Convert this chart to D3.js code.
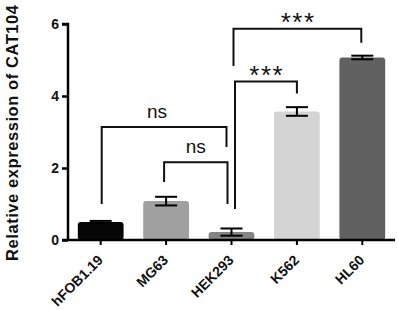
<!DOCTYPE html>
<html><head><meta charset="utf-8">
<script src="https://cdn.jsdelivr.net/npm/d3@7"></script>
<style>body{margin:0;background:#fff}svg{display:block}text{font-family:"Liberation Sans",Arial,sans-serif}</style>
</head><body><svg id="c" width="398" height="310"></svg>
<script>
const categories = ["hFOB1.19","MG63","HEK293","K562","HL60"];
const means = [0.5, 1.08, 0.22, 3.57, 5.07];
const errors = [0.03, 0.12, 0.1, 0.12, 0.05];
const barColors = ["#060606","#a0a0a0","#848484","#d4d4d4","#616161"];
const yTicks = [0,2,4,6];
const yTitle = "Relative expression of CAT104";
// significance brackets
const bracketFrom = ["hFOB1.19","MG63","HEK293","HEK293"];
const bracketTo = ["HEK293","HEK293","K562","HL60"];
const bracketLevel = [3.14, 2.16, 4.4, 5.87];
const legLeftEnd = [1.0, 1.61, 0.86, 4.83];
const legRightEnd = [2.58, 1.0, 4.07, 5.48];
const bracketLabels = ["ns","ns","***","***"];

const svg = d3.select("#c");
const FONT = "Liberation Sans,Arial,sans-serif";
const x0 = 68, x1 = 395, yTop = 24, yBot = 240;
const x = d3.scaleBand().domain(categories).range([x0, x1]).paddingInner(0.3).paddingOuter(0.15);
const y = d3.scaleLinear().domain([0,6]).range([yBot, yTop]);
const cx = c => x(c) + x.bandwidth()/2;
// pixel nudges for bracket legs and labels (layout)
const legNudgeL = [1, -2, 3.5, 2];
const legNudgeR = [-5, -4, 0, -1];
const labelNudge = [-7, 0, 0, 0];

// bars
svg.append("g").selectAll("rect").data(categories).join("rect")
  .attr("x", d => x(d)).attr("width", x.bandwidth())
  .attr("y", (d,i) => y(means[i])).attr("height", (d,i) => yBot - y(means[i]))
  .attr("rx", 3).attr("fill", (d,i) => barColors[i]);

// error bars
const eb = svg.append("g").attr("stroke","#000").attr("stroke-width",2).attr("fill","none");
categories.forEach((c,i) => {
  const xc = cx(c), hw = 11;
  const top = y(means[i]+errors[i]), bot = y(means[i]-errors[i]);
  eb.append("line").attr("x1",xc).attr("x2",xc).attr("y1",top).attr("y2",bot);
  eb.append("line").attr("x1",xc-hw).attr("x2",xc+hw).attr("y1",top).attr("y2",top);
  eb.append("line").attr("x1",xc-hw).attr("x2",xc+hw).attr("y1",bot).attr("y2",bot);
});

// axes
const ya = svg.append("g").attr("transform",`translate(${x0},0)`)
  .call(d3.axisLeft(y).tickValues(yTicks).tickSize(6).tickPadding(3).tickFormat(d3.format("d")));
ya.select(".domain").attr("stroke-width",2.5).attr("d",`M-6,${yTop}H0V${yBot}`);
ya.selectAll(".tick line").attr("stroke-width",2.5);
ya.selectAll("text").attr("font-size",14).attr("font-weight","bold").attr("font-family",FONT).attr("fill","#111");

const xa = svg.append("g").attr("transform",`translate(0,${yBot})`)
  .call(d3.axisBottom(x).tickSize(5).tickPadding(2));
xa.select(".domain").attr("stroke-width",2.5).attr("d",`M${x0-6},0H${x1}`);
xa.selectAll(".tick line").attr("stroke-width",2);
xa.selectAll(".tick text")
  .attr("font-size",14).attr("font-weight","bold").attr("font-family",FONT).attr("fill","#111")
  .attr("text-anchor","end").attr("x",0).attr("y",0).attr("dy",null)
  .attr("transform","translate(3,21) rotate(-45)");

// y title
svg.append("text").attr("transform",`translate(18,${133}) rotate(-90)`)
  .attr("text-anchor","middle").attr("font-size",16.5).attr("font-weight","bold").attr("fill","#111")
  .attr("textLength",256).attr("lengthAdjust","spacing")
  .text(yTitle);

// brackets
const br = svg.append("g");
bracketLabels.forEach((lab,i) => {
  const xl = cx(bracketFrom[i]) + legNudgeL[i], xr = cx(bracketTo[i]) + legNudgeR[i];
  const yl = y(bracketLevel[i]);
  br.append("path").attr("fill","none").attr("stroke","#111").attr("stroke-width",2)
    .attr("d",`M${xl},${y(legLeftEnd[i])}V${yl}H${xr}V${y(legRightEnd[i])}`);
  const isStar = lab.startsWith("*");
  br.append("text").attr("x",(xl+xr)/2 + labelNudge[i] + (isStar?0.75:0)).attr("y", yl + (isStar ? 2 : -9))
    .attr("text-anchor","middle").attr("font-size", isStar ? 26 : 19)
    .attr("letter-spacing", isStar ? 1.5 : 0).attr("fill","#111")
    .text(lab);
});
</script></body></html>
